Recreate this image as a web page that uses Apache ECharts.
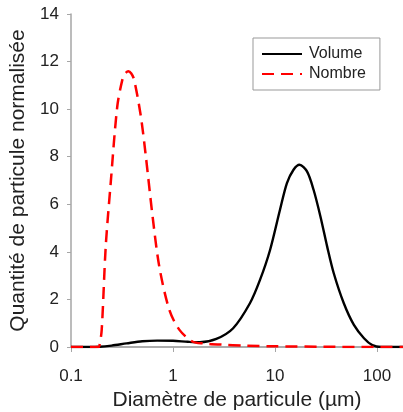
<!DOCTYPE html>
<html><head><meta charset="utf-8">
<script src="https://cdn.jsdelivr.net/npm/echarts@6/dist/echarts.min.js"></script>
<style>html,body{margin:0;padding:0;background:#fff}#c{width:403px;height:412px}</style>
</head><body><div id="c"></div>
<script>
const xTicks = [0.1, 1, 10, 100];
const yTicks = [0, 2, 4, 6, 8, 10, 12, 14];
const seriesNames = ['Volume', 'Nombre'];
const volumeX = [0.1,0.15,0.19,0.25,0.35,0.5,0.7,1,1.4,1.83,2.66,3.89,5.68,7.13,8.95,11.2,13.1,15.2,17.4,20.6,23.9,27.9,32.5,37.7,47.3,59.4,74.6,90,110,180];
const volumeY = [0,0,0.01,0.06,0.15,0.24,0.27,0.26,0.22,0.2,0.34,0.79,1.84,2.82,4.08,5.77,6.89,7.45,7.66,7.38,6.61,5.49,4.22,3.1,1.84,0.93,0.37,0.08,0,0];
const nombreX = [0.1,0.15,0.185,0.19,0.2,0.219,0.245,0.284,0.319,0.34,0.365,0.39,0.416,0.484,0.542,0.631,0.734,0.921,1.157,1.565,2,3,5,10,30,100,180];
const nombreY = [0,0,0,0.05,0.72,4.22,6.89,10.1,11.24,11.5,11.59,11.5,11.24,9.7,8.01,5.49,3.38,1.56,0.72,0.22,0.15,0.1,0.06,0.03,0.01,0,0];

const pairs = (xs, ys) => xs.map((x, i) => [x, ys[i]]);
const font = 'Liberation Sans, Arial, sans-serif';
const axisCol = '#a6a6a6';
const chart = echarts.init(document.getElementById('c'), null, {renderer: 'canvas'});
chart.setOption({
  animation: false,
  grid: {left: 71, right: 0, top: 14, bottom: 65, outerBoundsMode: 'none', containLabel: false},
  legend: {
    orient: 'vertical', left: 253, top: 38, width: 123,
    padding: [8, 14, 8, 8], itemGap: 4,
    borderColor: '#999', borderWidth: 1,
    itemWidth: 40, itemHeight: 14, itemGap: 4,
    itemStyle: {opacity: 0},
    textStyle: {fontFamily: font, fontSize: 16, color: '#222', padding: [0, 0, 0, 2]},
    data: seriesNames
  },
  xAxis: [{
    type: 'log', logBase: 10, min: 0.1, max: 180,
    name: 'Diamètre de particule (µm)', nameLocation: 'middle', nameGap: 43,
    nameTextStyle: {fontFamily: font, fontSize: 21, color: '#222'},
    axisLine: {show: true, onZero: false, lineStyle: {color: axisCol, width: 1.5}},
    axisTick: {show: true, length: 5, lineStyle: {color: axisCol}},
    minorTick: {show: false},
    splitLine: {show: false},
    axisLabel: {fontFamily: font, fontSize: 17, color: '#222', margin: 21,
      formatter: v => xTicks.includes(+(+v).toPrecision(3)) ? String(+(+v).toPrecision(3)) : ''}
  }, {
    type: 'log', logBase: 10, min: 0.1, max: 180, position: 'top',
    axisLine: {show: true, lineStyle: {color: axisCol, width: 1.5}},
    axisTick: {show: false}, axisLabel: {show: false}, splitLine: {show: false}
  }],
  yAxis: {
    type: 'value', min: 0, max: 14, interval: 2,
    name: 'Quantité de particule normalisée', nameLocation: 'middle', nameGap: 40,
    nameTextStyle: {fontFamily: font, fontSize: 21, color: '#222'},
    axisLine: {show: true, lineStyle: {color: axisCol, width: 1.5}},
    axisTick: {show: true, length: 4, lineStyle: {color: axisCol}},
    splitLine: {show: false},
    axisLabel: {fontFamily: font, fontSize: 17, color: '#222', margin: 12}
  },
  series: [{
    name: seriesNames[0], type: 'line', xAxisIndex: 0,
    data: pairs(volumeX, volumeY), smooth: 0.3, symbol: 'none',
    lineStyle: {color: '#000', width: 2.4}, itemStyle: {color: '#000'}
  }, {
    name: seriesNames[1], type: 'line', xAxisIndex: 0,
    data: pairs(nombreX, nombreY), smooth: 0.3, symbol: 'none',
    lineStyle: {color: '#ff0000', width: 2.5, type: [12, 7]}, itemStyle: {color: '#ff0000'}
  }]
});
</script></body></html>
